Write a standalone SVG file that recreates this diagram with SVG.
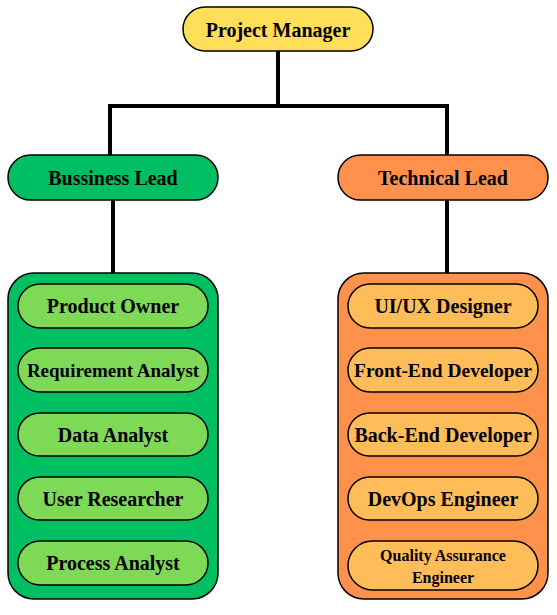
<svg xmlns="http://www.w3.org/2000/svg" width="557" height="615" viewBox="0 0 557 615">
<style>
text{font-family:"Liberation Serif","Times New Roman",serif;font-weight:bold;fill:#000;text-anchor:middle;dominant-baseline:central}
.n{stroke:#000;stroke-width:1.5}
.t1{font-size:20px}
.t2{font-size:20px}
.t3{font-size:16px}
.c{stroke:#000;stroke-width:4;fill:none}
</style>
<rect width="557" height="615" fill="#fff"/>
<g id="connectors">
<path class="c" d="M278 51V106M110 106H447M110 104V156M447 104V156"/>
<path class="c" d="M113 200V274M447 200V274"/>
</g>
<g id="pm"><rect class="n" x="183" y="7" width="190" height="44" rx="22" fill="#FFDE59"/><text class="t1" x="278" y="30">Project Manager</text></g>
<g id="bl"><rect class="n" x="8" y="155" width="210" height="45" rx="22.5" fill="#00BF63"/><text class="t1" x="113" y="178">Bussiness Lead</text></g>
<g id="tl"><rect class="n" x="338" y="155" width="210" height="45" rx="22.5" fill="#FF914D"/><text class="t1" x="443" y="178">Technical Lead</text></g>
<g id="bgroup"><rect class="n" x="8" y="273" width="210" height="326" rx="26" fill="#00BF63"/></g>
<g id="tgroup"><rect class="n" x="338" y="273" width="210" height="326" rx="26" fill="#FF914D"/></g>
<g id="po"><rect class="n" x="18" y="284" width="190" height="44" rx="22" fill="#7ED957"/><text class="t2" x="113" y="306">Product Owner</text></g>
<g id="ra"><rect class="n" x="18" y="348" width="190" height="44" rx="22" fill="#7ED957"/><text class="t2" x="113" y="370" style="font-size:19px">Requirement Analyst</text></g>
<g id="da"><rect class="n" x="18" y="413" width="190" height="43" rx="21.5" fill="#7ED957"/><text class="t2" x="113" y="435">Data Analyst</text></g>
<g id="ur"><rect class="n" x="18" y="477" width="190" height="43" rx="21.5" fill="#7ED957"/><text class="t2" x="113" y="499">User Researcher</text></g>
<g id="pa"><rect class="n" x="18" y="541" width="190" height="44" rx="22" fill="#7ED957"/><text class="t2" x="113" y="563">Process Analyst</text></g>
<g id="ux"><rect class="n" x="348" y="284" width="190" height="44" rx="22" fill="#FFBD59"/><text class="t2" x="443" y="306">UI/UX Designer</text></g>
<g id="fe"><rect class="n" x="348" y="348" width="190" height="44" rx="22" fill="#FFBD59"/><text class="t2" x="443" y="370" style="font-size:19.5px">Front-End Developer</text></g>
<g id="be"><rect class="n" x="348" y="413" width="190" height="43" rx="21.5" fill="#FFBD59"/><text class="t2" x="443" y="435">Back-End Developer</text></g>
<g id="do"><rect class="n" x="348" y="477" width="190" height="43" rx="21.5" fill="#FFBD59"/><text class="t2" x="443" y="499">DevOps Engineer</text></g>
<g id="qa"><rect class="n" x="348" y="541" width="190" height="49" rx="24.5" fill="#FFBD59"/><text class="t3" x="443" y="555">Quality Assurance</text><text class="t3" x="443" y="577">Engineer</text></g>
</svg>
